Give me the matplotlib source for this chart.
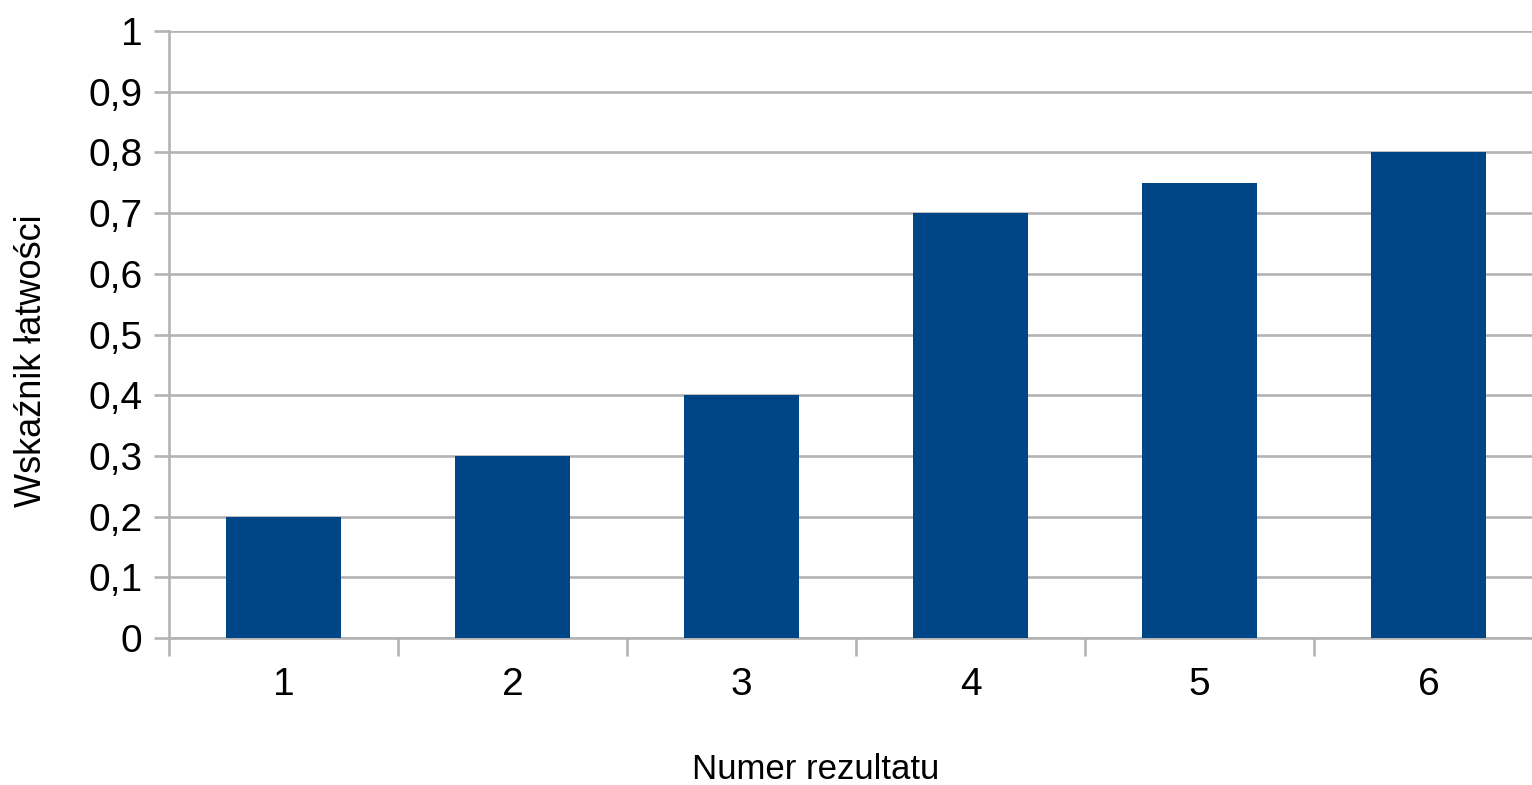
import matplotlib
matplotlib.use("Agg")
import matplotlib.pyplot as plt

# wskaznik latwosci dla kazdego rezultatu
results = [1, 2, 3, 4, 5, 6]
values = [0.2, 0.3, 0.4, 0.7, 0.75, 0.8]
y_ticks = [0, 0.1, 0.2, 0.3, 0.4, 0.5, 0.6, 0.7, 0.8, 0.9, 1]
y_labels = ["0", "0,1", "0,2", "0,3", "0,4", "0,5", "0,6", "0,7", "0,8", "0,9", "1"]

grey = "#b3b3b3"
plt.rcParams['font.family'] = ['Liberation Sans', 'DejaVu Sans']

fig = plt.figure(figsize=(15.32, 7.85), dpi=100)
ax = fig.add_axes([169/1532, 1-638/785, 1374/1532, 607/785])

ax.bar(results, values, width=0.5, color="#004586", zorder=3)

ax.set_xlim(0.5, 6.5)
ax.set_ylim(0, 1)
ax.set_yticks(y_ticks)
ax.set_yticklabels(y_labels)
ax.yaxis.grid(True, color=grey, linewidth=1.9, zorder=0)
ax.set_axisbelow(True)

ax.set_xticks(results)
ax.set_xticklabels([str(r) for r in results])
ax.set_xticks([r - 0.5 for r in results] + [6.5], minor=True)
ax.tick_params(axis='x', which='major', length=0, pad=21, labelsize=28)
ax.tick_params(axis='x', which='minor', length=13, width=1.9, color=grey)
ax.tick_params(axis='y', length=11, width=1.9, color=grey, pad=8, labelsize=28)

for side in ["top", "right"]:
    ax.spines[side].set_visible(False)
for side in ["left", "bottom"]:
    ax.spines[side].set_color(grey)
    ax.spines[side].set_linewidth(1.9)

fig.text(816/1532, 1-779/785, "Numer rezultatu", fontsize=25, ha="center", va="baseline")
fig.text(41/1532, 1-361/785, "Wskaźnik łatwości", fontsize=26, rotation=90,
         rotation_mode="anchor", ha="center", va="baseline")

plt.savefig("out.png", dpi=100)
plt.close()
